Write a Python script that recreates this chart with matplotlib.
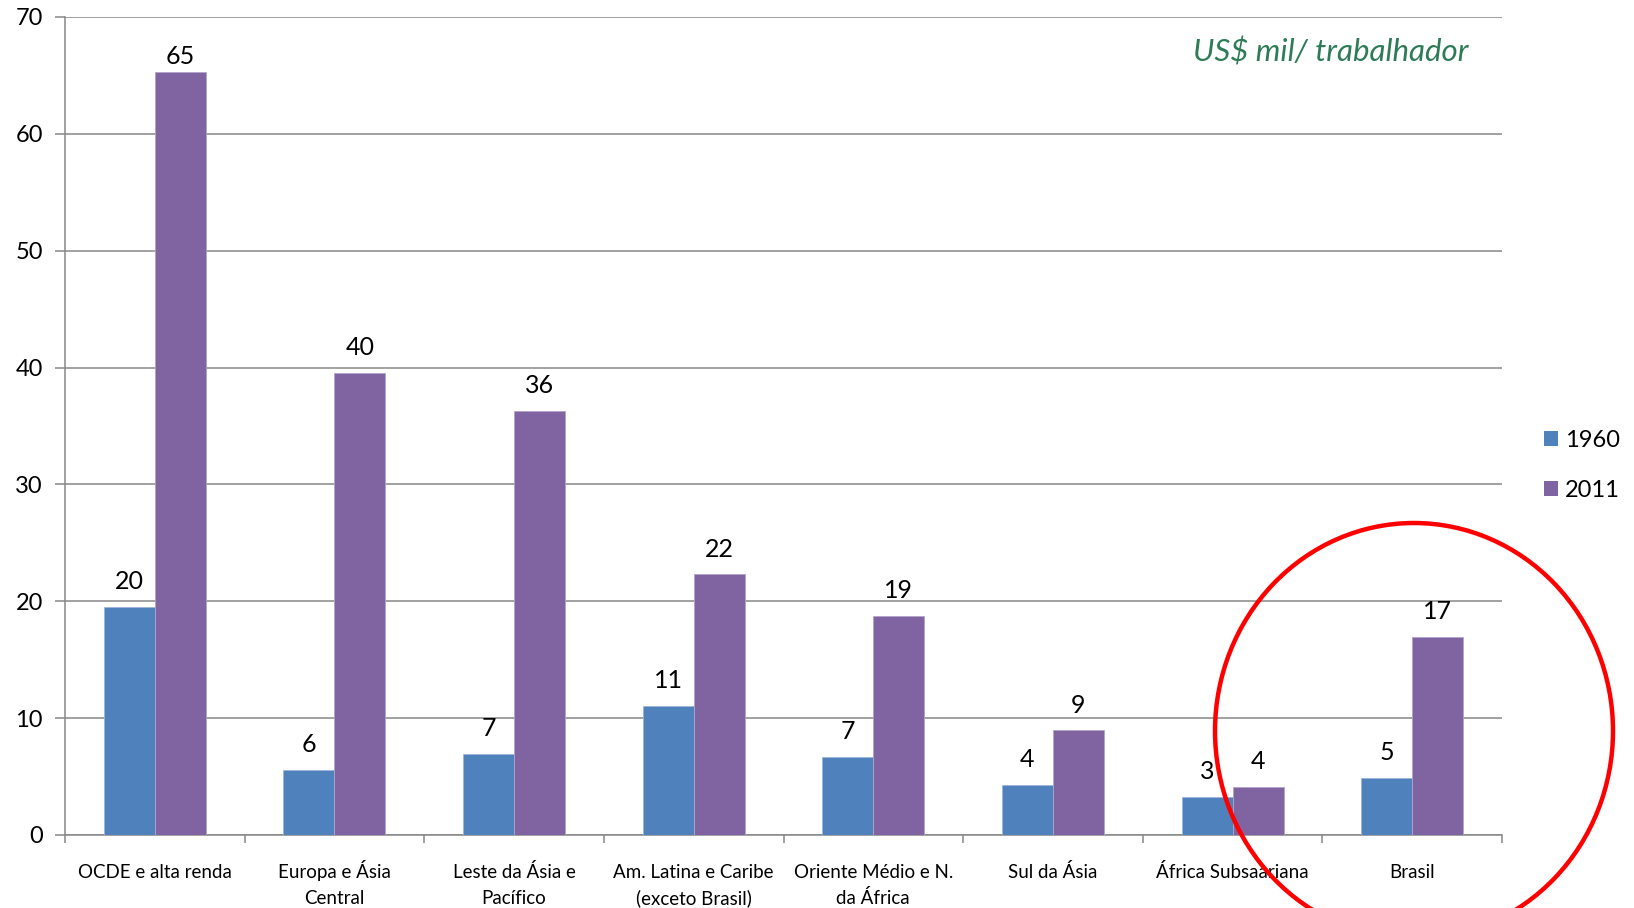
import matplotlib.pyplot as plt
from matplotlib.patches import Ellipse, Patch
import numpy as np

plt.rcParams['font.family'] = ['Lato', 'DejaVu Sans']

regioes = ['OCDE e alta renda', 'Europa e Ásia\nCentral', 'Leste da Ásia e\nPacífico',
           'Am. Latina e Caribe\n(exceto Brasil)', 'Oriente Médio e N.\nda África',
           'Sul da Ásia', 'África Subsaariana', 'Brasil']
anos = ['1960', '2011']
valores_1960 = [19.55, 5.55, 6.9, 11.05, 6.7, 4.3, 3.27, 4.87]
valores_2011 = [65.3, 39.55, 36.3, 22.3, 18.75, 8.95, 4.08, 16.95]

azul = '#4F81BD'
roxo = '#8064A2'
cinza = '#878787'

fig = plt.figure(figsize=(16.34, 9.08), dpi=100)
ax = fig.add_axes([0.0398, 0.0804, 0.9192 - 0.0398, 0.9813 - 0.0804])

x = np.arange(len(regioes))
w = 0.284
b1 = ax.bar(x - w / 2, valores_1960, w, color=azul, edgecolor='#9DB5DA', linewidth=0.6, zorder=3)
b2 = ax.bar(x + w / 2, valores_2011, w, color=roxo, edgecolor='#B3A3CB', linewidth=0.6, zorder=3)

# rotulos de valor em cima de cada barra (o mais alto fica colado no topo)
for barras in (b1, b2):
    for r in barras:
        v = r.get_height()
        dy = 3 if v > 60 else 10
        ax.annotate(f'{v:.0f}', (r.get_x() + r.get_width() / 2, v),
                    xytext=(0, dy), textcoords='offset points',
                    ha='center', va='bottom', fontsize=18, color='black')

ax.set_xlim(-0.5, len(regioes) - 0.5)
ax.set_ylim(0, 70)
ax.set_yticks(range(0, 71, 10))
ax.yaxis.grid(True, color=cinza, linewidth=1.1, zorder=0)

ax.set_xticks(np.arange(-0.5, len(regioes), 1.0))
ax.set_xticklabels([])
ax.tick_params(axis='x', which='major', length=6, width=1.1, color=cinza)
ax.tick_params(axis='y', length=7, width=1.1, color=cinza, labelsize=17, pad=9)

# nomes das regioes, uma linha de cada vez para a primeira ficar sempre na mesma altura
for i, nome in enumerate(regioes):
    for k, linha in enumerate(nome.split('\n')):
        ax.annotate(linha, (i, 0), xycoords=('data', 'axes fraction'),
                    xytext=(0, -31.3 - 18.7 * k), textcoords='offset points',
                    ha='center', va='baseline', fontsize=13.5)

for lado in ['top', 'right']:
    ax.spines[lado].set_visible(False)
for lado in ['left', 'bottom']:
    ax.spines[lado].set_color(cinza)
    ax.spines[lado].set_linewidth(1.1)

ax.text(0.977, 0.957, 'US$ mil/ trabalhador', transform=ax.transAxes,
        ha='right', va='center', fontsize=22.5, style='italic', color='#2E7B57')

handles = [Patch(facecolor=azul), Patch(facecolor=roxo)]
fig.legend(handles, anos, loc='center left', bbox_to_anchor=(0.945, 0.4874),
           frameon=False, fontsize=17, handlelength=0.6, handleheight=0.6,
           handletextpad=0.27, labelspacing=1.2, borderpad=0, borderaxespad=0)

circulo = Ellipse((1414 / 1634, 1 - 731 / 908), 398 / 1634, 416 / 908,
                  transform=fig.transFigure, fill=False, edgecolor='#FF0000',
                  linewidth=3.2, zorder=10, clip_on=False)
fig.add_artist(circulo)

fig.savefig('out.png', dpi=100)
